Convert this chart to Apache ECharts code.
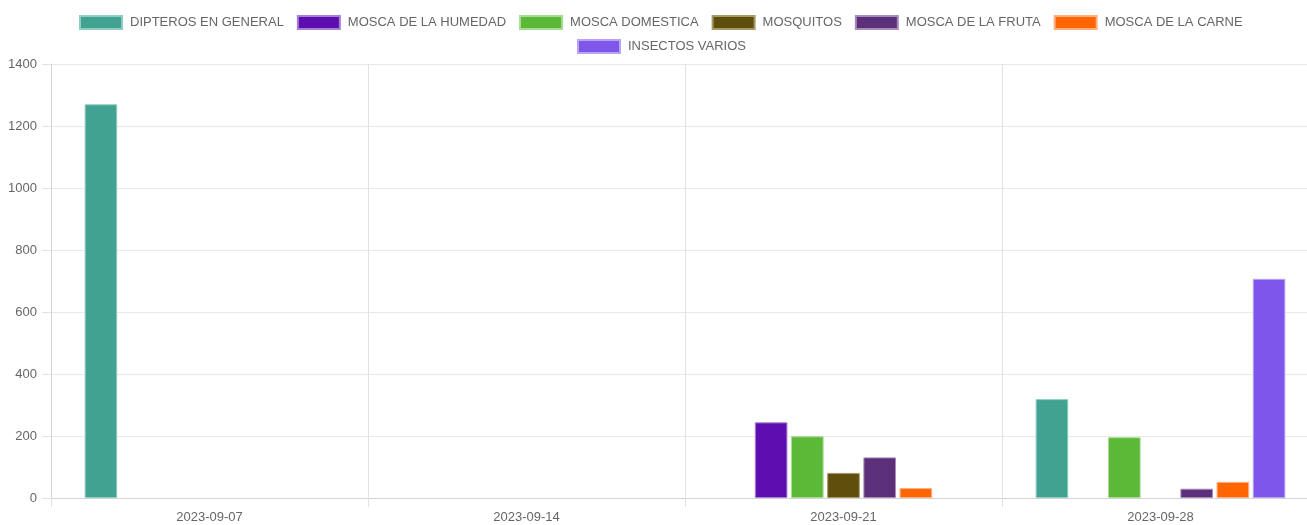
<!DOCTYPE html>
<html>
<head>
<meta charset="utf-8">
<script src="https://cdn.jsdelivr.net/npm/echarts@6/dist/echarts.min.js"></script>
<style>
html,body{margin:0;padding:0;background:#fff;overflow:hidden;}
#chart{width:1326px;height:525px;}
</style>
</head>
<body>
<div id="chart"></div>
<script>
const categories = ['2023-09-07', '2023-09-14', '2023-09-21', '2023-09-28'];
const seriesNames = ['DIPTEROS EN GENERAL', 'MOSCA DE LA HUMEDAD', 'MOSCA DOMESTICA', 'MOSQUITOS', 'MOSCA DE LA FRUTA', 'MOSCA DE LA CARNE', 'INSECTOS VARIOS'];
const dipterosEnGeneral = [1270, 0, 0, 319];
const moscaDeLaHumedad = [0, 0, 244, 0];
const moscaDomestica = [0, 0, 199, 196];
const mosquitos = [0, 0, 81, 0];
const moscaDeLaFruta = [0, 0, 131, 30];
const moscaDeLaCarne = [0, 0, 32, 52];
const insectosVarios = [0, 0, 0, 707];
const yTicks = [0, 200, 400, 600, 800, 1000, 1200, 1400];

const seriesValues = [dipterosEnGeneral, moscaDeLaHumedad, moscaDomestica, mosquitos, moscaDeLaFruta, moscaDeLaCarne, insectosVarios];
const colors = ['#41a291', '#5e0eb0', '#5cb938', '#5f4f0c', '#5c2f7b', '#ff6500', '#7e56ea'];
const borderColors = ['#8fcdc2', '#a77fd6', '#a6dc92', '#a69a6a', '#a68cb8', '#ffae80', '#b9a4f4'];

const font = "'Liberation Sans', Arial, Helvetica, sans-serif";
const chart = echarts.init(document.getElementById('chart'), null, {renderer: 'canvas'});

const legendCommon = {
  orient: 'horizontal',
  padding: 0,
  itemWidth: 42,
  itemHeight: 13,
  itemGap: 13,
  icon: 'rect',
  selectedMode: false,
  textStyle: {color: '#666', fontSize: 13, fontFamily: font, padding: [0, 0, 0, 3]}
};

chart.setOption({
  animation: false,
  backgroundColor: '#fff',
  textStyle: {fontFamily: font},
  legend: [
    Object.assign({}, legendCommon, {left: 79, top: 15, data: seriesNames.slice(0, 6)}),
    Object.assign({}, legendCommon, {left: 577, top: 39, data: seriesNames.slice(6)})
  ],
  grid: {left: 51, top: 64, width: 1268, bottom: 27, containLabel: false},
  xAxis: {
    type: 'category',
    data: categories,
    boundaryGap: true,
    axisLine: {show: true, lineStyle: {color: '#d4d4d4', width: 1}},
    axisTick: {show: true, length: 9, lineStyle: {color: '#e2e2e2'}},
    splitLine: {show: true, lineStyle: {color: '#e2e2e2', width: 1}},
    axisLabel: {color: '#666', fontSize: 13, fontFamily: font, margin: 13}
  },
  yAxis: {
    type: 'value',
    min: yTicks[0],
    max: yTicks[yTicks.length - 1],
    interval: yTicks[1] - yTicks[0],
    axisLine: {show: true, lineStyle: {color: '#d4d4d4', width: 1}},
    axisTick: {show: true, length: 9, lineStyle: {color: '#e2e2e2'}},
    splitLine: {show: true, lineStyle: {color: '#e8e8e8', width: 1}},
    axisLabel: {color: '#666', fontSize: 13, fontFamily: font, margin: 14, formatter: v => String(v)}
  },
  series: seriesNames.map((name, i) => ({
    name: name,
    type: 'bar',
    data: seriesValues[i].map(v => v === 0 ? '-' : v),
    barWidth: 32.6,
    barGap: '11%',
    itemStyle: {color: colors[i], borderColor: borderColors[i], borderWidth: 1}
  }))
});
</script>
</body>
</html>
